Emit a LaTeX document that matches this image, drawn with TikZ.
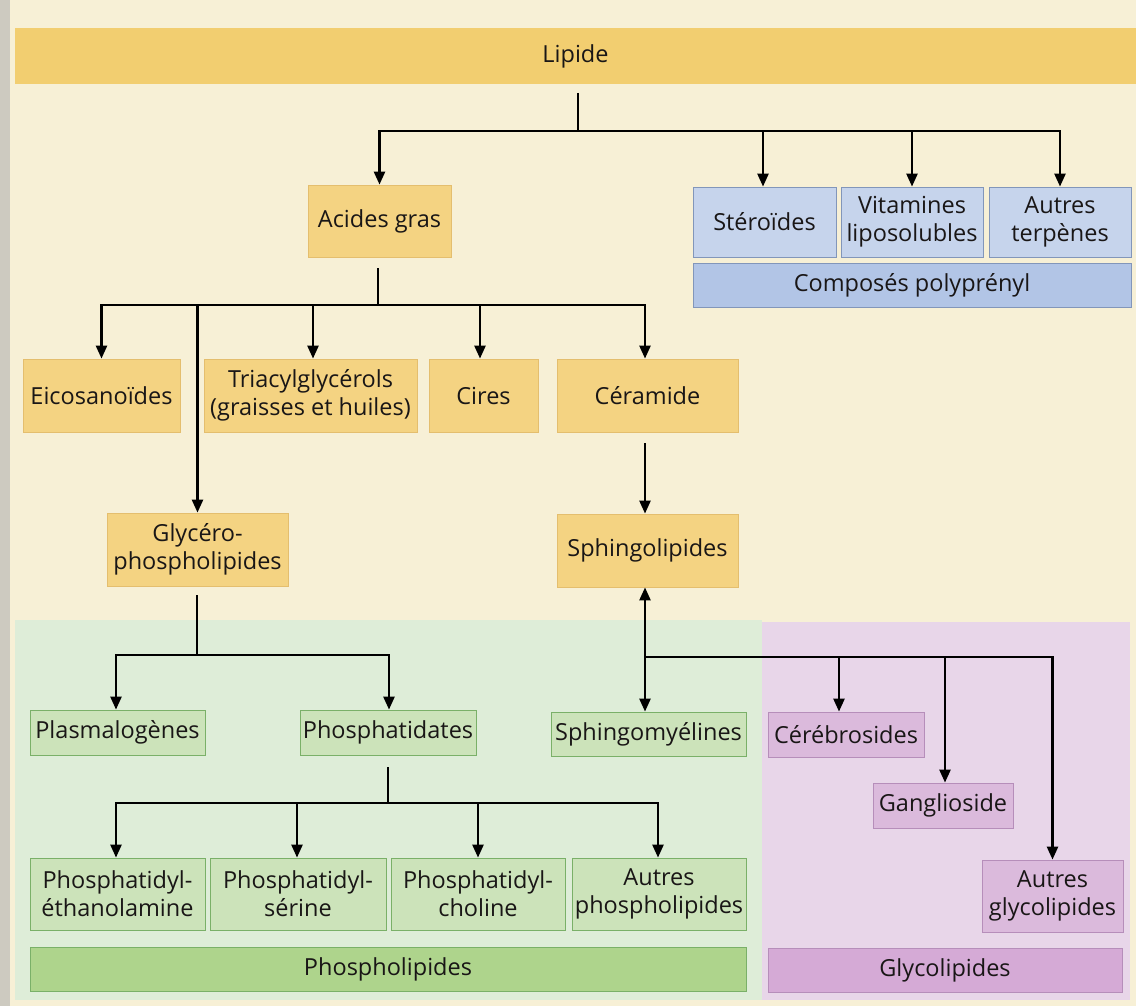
\documentclass[tikz,border=0pt]{standalone}
\usepackage{fontspec}
\setmainfont{Open Sans}
\usetikzlibrary{arrows.meta}
\definecolor{paper}{RGB}{247,240,214}
\definecolor{edge}{RGB}{205,202,192}
\definecolor{band}{RGB}{242,206,112}
\definecolor{yfill}{RGB}{244,211,130}
\definecolor{yline}{RGB}{228,190,110}
\definecolor{bfill}{RGB}{198,212,236}
\definecolor{bfill2}{RGB}{178,197,230}
\definecolor{bline}{RGB}{130,150,186}
\definecolor{gregion}{RGB}{222,237,216}
\definecolor{gfill}{RGB}{204,227,186}
\definecolor{gfill2}{RGB}{174,212,140}
\definecolor{gline}{RGB}{122,176,104}
\definecolor{pregion}{RGB}{232,214,233}
\definecolor{pfill}{RGB}{219,186,220}
\definecolor{pfill2}{RGB}{213,170,214}
\definecolor{pline}{RGB}{182,142,186}
\definecolor{txt}{RGB}{25,22,22}
\tikzset{
  box/.style={draw, line width=0.8pt, inner sep=0pt, align=center, text=txt,
    font=\fontsize{23.5}{28}\selectfont},
  ybox/.style={box, fill=yfill, draw=yline},
  bbox/.style={box, fill=bfill, draw=bline},
  gbox/.style={box, fill=gfill, draw=gline},
  pbox/.style={box, fill=pfill, draw=pline},
  conn/.style={line width=2.5pt, draw=black},
  arr/.style={conn, -{Triangle[width=11pt,length=13pt]}},
}
\begin{document}
\begin{tikzpicture}[x=1pt,y=-1pt]
\useasboundingbox (0,0) rectangle (1136,1006);
\fill[paper] (0,0) rectangle (1136,1006);
\fill[edge] (0,0) rectangle (10,1006);
% coloured regions
\fill[gregion] (15,620) rectangle (762,1000);
\fill[pregion] (762,622) rectangle (1130,1000);
% Lipide band
\node[box, draw=none, fill=band, minimum width=1121pt, minimum height=56pt] (lipide) at (575.5,56) {Lipide};
% row 1
\node[ybox, minimum width=143pt, minimum height=72pt] (acides) at (379.5,221) {Acides gras};
\node[bbox, minimum width=143pt, minimum height=70pt] (steroides) at (764.5,222) {Stéroïdes};
\node[bbox, minimum width=142pt, minimum height=70pt] (vitamines) at (912,222) {Vitamines\\liposolubles};
\node[bbox, minimum width=142pt, minimum height=70pt] (autresT) at (1060,222) {Autres\\terpènes};
\node[box, fill=bfill2, draw=bline, minimum width=438pt, minimum height=44pt] (polyprenyl) at (912,285) {Composés polyprényl};
% row 2
\node[ybox, minimum width=157pt, minimum height=73pt] (eico) at (101.5,395.5) {Eicosanoïdes};
\node[ybox, minimum width=213pt, minimum height=73pt] (triacyl) at (310.5,395.5) {Triacylglycérols\\(graisses et huiles)};
\node[ybox, minimum width=109pt, minimum height=73pt] (cires) at (483.5,395.5) {Cires};
\node[ybox, minimum width=181pt, minimum height=73pt] (ceramide) at (647.5,395.5) {Céramide};
% row 3
\node[ybox, minimum width=181pt, minimum height=73pt] (glycero) at (197.5,549.5) {Glycéro-\\phospholipides};
\node[ybox, minimum width=181pt, minimum height=73pt] (sphingo) at (647.5,550.5) {Sphingolipides};
% row 4
\node[gbox, minimum width=175pt, minimum height=45pt] (plasmalo) at (117.5,732.5) {Plasmalogènes};
\node[gbox, minimum width=176pt, minimum height=45pt] (phosphatidates) at (388,732.5) {Phosphatidates};
\node[gbox, minimum width=195pt, minimum height=44pt] (sphingomy) at (648.5,734) {Sphingomyélines};
\node[pbox, minimum width=156pt, minimum height=45pt] (cerebro) at (846,734.5) {Cérébrosides};
\node[pbox, minimum width=140pt, minimum height=45pt] (gangli) at (943,805.5) {Ganglioside};
\node[pbox, minimum width=141pt, minimum height=72pt] (autresG) at (1052.5,896) {Autres\\glycolipides};
% row 5
\node[gbox, minimum width=175pt, minimum height=72pt] (pe) at (117.5,894) {Phosphatidyl-\\éthanolamine};
\node[gbox, minimum width=176pt, minimum height=72pt] (ps) at (298,894) {Phosphatidyl-\\sérine};
\node[gbox, minimum width=174pt, minimum height=72pt] (pc) at (478,894) {Phosphatidyl-\\choline};
\node[gbox, minimum width=174pt, minimum height=72pt] (autresP) at (659,894) {Autres\\phospholipides};
\node[box, fill=gfill2, draw=gline, minimum width=716pt, minimum height=44pt] (phospholip) at (388,969) {Phospholipides};
\node[box, fill=pfill2, draw=pline, minimum width=354pt, minimum height=44pt] (glycolip) at (945,970) {Glycolipides};
% junctions
\coordinate (lipOut) at (578,93);
\coordinate (j1) at (578,131);
\coordinate (j2) at (378,305);
\coordinate (j3) at (197,655);
\coordinate (j4) at (645,657);
\coordinate (j5) at (388,803);
% connectors
\draw[conn] (lipOut) -- (j1);
\draw[arr] (j1) -| (acides.north);
\draw[arr] (j1) -| ([xshift=-1.5pt]steroides.north);
\draw[arr] (j1) -| (vitamines.north);
\draw[arr] (j1) -| (autresT.north);
\draw[conn, shorten <=11pt] (acides.south -| j2) -- (j2);
\draw[arr] (j2) -| (eico.north);
\draw[arr] (j2) -| ([xshift=2.5pt]triacyl.north);
\draw[arr] (j2) -| ([xshift=-3.5pt]cires.north);
\draw[arr] (j2) -| ([xshift=-2.5pt]ceramide.north);
\draw[arr] (j2) -| (glycero.north);
\draw[arr, shorten <=11pt] ([xshift=-2.5pt]ceramide.south) -- ([xshift=-2.5pt]sphingo.north);
\draw[conn, shorten <=9pt] (glycero.south -| j3) -- (j3);
\draw[arr] (j3) -| ([xshift=-1.5pt]plasmalo.north);
\draw[arr] (j3) -| ([xshift=1pt]phosphatidates.north);
\draw[arr] (j4) -- (sphingo.south -| j4);
\draw[arr] (j4) -| ([xshift=-3.5pt]sphingomy.north);
\draw[arr] (j4) -| ([xshift=-7pt]cerebro.north);
\draw[arr] (j4) -| ([xshift=2pt]gangli.north);
\draw[arr] (j4) -| (autresG.north);
\draw[conn, shorten <=12pt] (phosphatidates.south) -- (j5);
\draw[arr] (j5) -| ([xshift=-1.5pt]pe.north);
\draw[arr] (j5) -| ([xshift=-1pt]ps.north);
\draw[arr] (j5) -| (pc.north);
\draw[arr] (j5) -| ([xshift=-1pt]autresP.north);
\end{tikzpicture}
\end{document}
